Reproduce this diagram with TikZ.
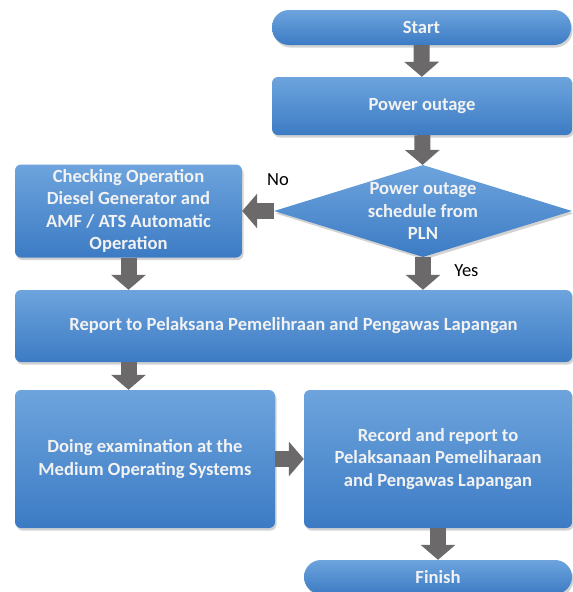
\documentclass[tikz,border=0pt]{standalone}
\usepackage{fontspec}
\setmainfont{Carlito}
\usetikzlibrary{arrows.meta,shapes.geometric,shadows}

\definecolor{boxtop}{HTML}{6DA4DD}
\definecolor{boxbottom}{HTML}{3C7BC4}
\definecolor{arrowgray}{HTML}{6B6969}
\definecolor{boxtext}{HTML}{F2F2F2}

\tikzset{
  stepbox/.style={rectangle,rounded corners=6pt,top color=boxtop,
        bottom color=boxbottom,draw=none,text=boxtext,align=center,
        font=\fontsize{18.6}{22.5}\selectfont\bfseries,inner sep=0pt,
        drop shadow={opacity=0.35,shadow xshift=1.5pt,shadow yshift=-2.5pt}},
  pillbox/.style={stepbox,rounded corners=17pt},
  choice/.style={stepbox,diamond,sharp corners,aspect=3.24,
        inner xsep=0pt,inner ysep=-8pt},
  flowarrow/.style={draw=arrowgray,line width=16pt,
        -{Triangle[length=15pt,width=34pt]}},
  answer/.style={font=\fontsize{18.5}{22.5}\selectfont,text=black}
}

\begin{document}
\begin{tikzpicture}[x=1pt,y=-1pt]
  \clip (0,0) rectangle (573,592);
  \fill[white] (0,0) rectangle (573,592);

  % right column
  \node[pillbox,minimum width=299pt,minimum height=35pt]
    (start) at (421.5,27.5) {Start};
  \node[stepbox,minimum width=300pt,minimum height=58pt]
    (outage) at (422,106) {Power outage};
  \node[choice,minimum width=298pt,minimum height=92pt]
    (schedule) at (423,211) {Power outage\\schedule from\\PLN};

  % left column
  \node[stepbox,minimum width=227pt,minimum height=93pt]
    (genset) at (128.5,211) {Checking Operation\\Diesel Generator and\\AMF / ATS Automatic\\Operation};

  \node[stepbox,minimum width=557pt,minimum height=72pt]
    (report) at (293.5,326) {Report to Pelaksana Pemelihraan and Pengawas Lapangan};

  \node[stepbox,minimum width=260pt,minimum height=138pt]
    (exam) at (145,459) {Doing examination at the\\Medium Operating Systems};
  \node[stepbox,minimum width=268pt,minimum height=138pt]
    (record) at (438,459) {Record and report to\\Pelaksanaan Pemeliharaan\\and Pengawas Lapangan};
  \node[pillbox,minimum width=268pt,minimum height=34pt]
    (finish) at (438,577) {Finish};

  \node[answer] (nolabel) at (278,180) {No};

  % connectors
  \draw[flowarrow] (start) -- (outage);
  \draw[flowarrow] (outage) -- (schedule);
  \draw[flowarrow] (schedule) -- (genset);
  \draw[flowarrow] (schedule.south) -- (schedule.south |- report.north)
    node[answer,pos=0.4,anchor=west,xshift=20pt] (yeslabel) {Yes};
  \draw[flowarrow] (genset.south) -- (genset.south |- report.north);
  \draw[flowarrow] (report.south -| genset.south) -- (exam.north -| genset.south);
  \draw[flowarrow] (exam) -- (record);
  \draw[flowarrow] (record) -- (finish);
\end{tikzpicture}
\end{document}
